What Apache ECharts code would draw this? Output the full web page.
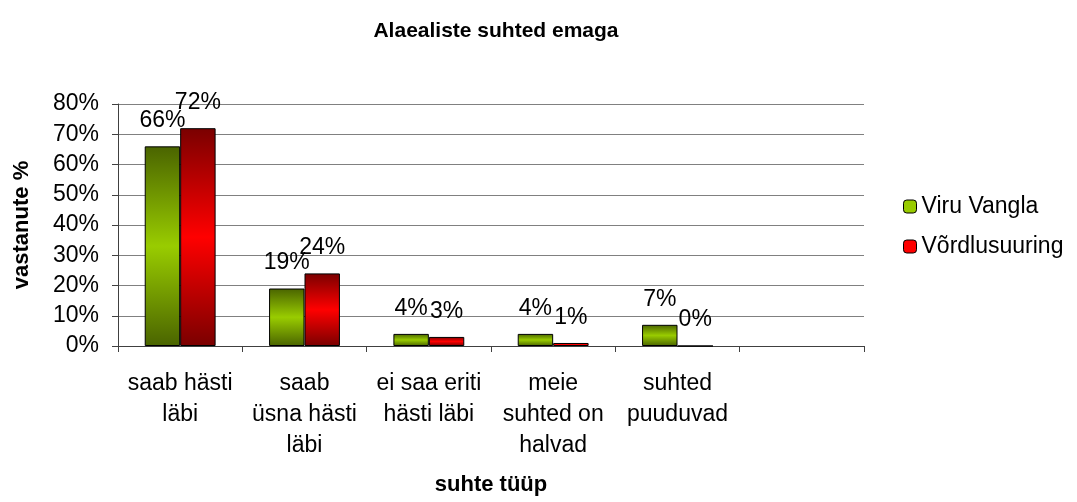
<!DOCTYPE html>
<html>
<head>
<meta charset="utf-8">
<script src="https://cdn.jsdelivr.net/npm/echarts@6/dist/echarts.min.js"></script>
<style>
  html, body { margin: 0; padding: 0; background: #fff; }
  #chart { width: 1077px; height: 502px; }
</style>
</head>
<body>
<div id="chart"></div>
<script>
const categories = ['saab hästi\nläbi', 'saab\nüsna hästi\nläbi', 'ei saa eriti\nhästi läbi', 'meie\nsuhted on\nhalvad', 'suhted\npuuduvad', '']
const viruVangla = [66, 19, 4, 4, 7, null]
const vordlus = [72, 24, 3, 1, 0, null]
const seriesNames = ['Viru Vangla', 'Võrdlusuuring']

const font = 'Liberation Sans, Arial, sans-serif'

// dark at top and bottom, bright in the middle, like the original bars
function grad(dark, light) {
  return new echarts.graphic.LinearGradient(0, 0, 0, 1, [
    { offset: 0, color: dark },
    { offset: 0.5, color: light },
    { offset: 1, color: dark }
  ])
}

let chart = echarts.init(document.getElementById('chart'))
let option = {
  animation: false,
  textStyle: { fontFamily: font, color: '#000' },
  title: {
    text: 'Alaealiste suhted emaga',
    left: 491,
    textAlign: 'center',
    top: 16,
    textStyle: { fontSize: 21, fontWeight: 'bold', color: '#000', fontFamily: font }
  },
  legend: {
    orient: 'vertical',
    left: 898,
    top: 190,
    itemGap: 17,
    itemWidth: 13,
    itemHeight: 13,
    textStyle: { fontSize: 23, color: '#000', fontFamily: font },
    data: [
      { name: seriesNames[0], itemStyle: { color: '#99cc00', borderColor: '#000', borderWidth: 1 } },
      { name: seriesNames[1], itemStyle: { color: '#ff0000', borderColor: '#000', borderWidth: 1 } }
    ]
  },
  grid: { left: 118, right: 213, top: 104, bottom: 156 },
  xAxis: {
    type: 'category',
    data: categories,
    name: 'suhte tüüp',
    nameLocation: 'middle',
    nameGap: 128,
    nameMoveOverlap: false,
    nameTextStyle: { fontSize: 22, fontWeight: 'bold', color: '#000', fontFamily: font },
    axisLine: { lineStyle: { color: '#404040', width: 1 } },
    axisTick: { show: true, length: 6, lineStyle: { color: '#404040' } },
    axisLabel: { interval: 0, fontSize: 23, lineHeight: 31, margin: 22, color: '#000', fontFamily: font }
  },
  yAxis: {
    type: 'value',
    min: 0,
    max: 80,
    interval: 10,
    name: 'vastanute %',
    nameLocation: 'middle',
    nameGap: 85,
    nameRotate: 90,
    nameTextStyle: { fontSize: 22, fontWeight: 'bold', color: '#000', fontFamily: font },
    axisLine: { show: true, lineStyle: { color: '#404040' } },
    axisTick: { show: true, length: 6, lineStyle: { color: '#404040' } },
    axisLabel: { formatter: '{value}%', fontSize: 23, margin: 19, color: '#000', fontFamily: font },
    splitLine: { lineStyle: { color: '#808080', width: 1 } }
  },
  series: [
    {
      name: seriesNames[0],
      type: 'bar',
      data: viruVangla,
      barGap: '0%',
      barCategoryGap: '43%',
      itemStyle: { color: grad('#4a6400', '#99cc00'), borderColor: '#000', borderWidth: 1 },
      label: { show: true, position: 'top', distance: 14, formatter: '{c}%', fontSize: 23, color: '#000', fontFamily: font }
    },
    {
      name: seriesNames[1],
      type: 'bar',
      data: vordlus,
      itemStyle: { color: grad('#7a0000', '#ff0000'), borderColor: '#000', borderWidth: 1 },
      label: { show: true, position: 'top', distance: 14, formatter: '{c}%', fontSize: 23, color: '#000', fontFamily: font }
    }
  ]
}
chart.setOption(option)
</script>
</body>
</html>
